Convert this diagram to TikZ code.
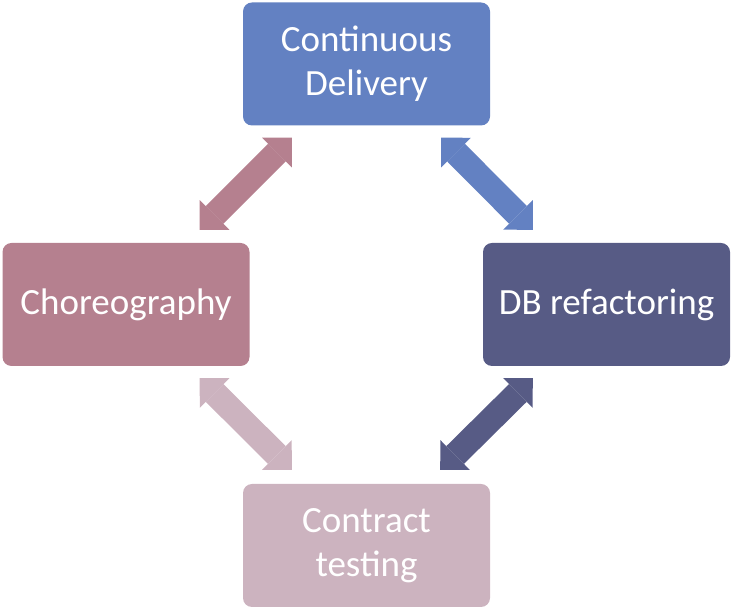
\documentclass[tikz,border=0pt]{standalone}
\usepackage{fontspec}
\setmainfont{Carlito}
\usetikzlibrary{arrows.meta, positioning}

\definecolor{cdblue}{HTML}{6381C2}
\definecolor{dbslate}{HTML}{575B85}
\definecolor{chorose}{HTML}{B5808F}
\definecolor{ctpink}{HTML}{CCB3BF}

\begin{document}
\begin{tikzpicture}[
    x=1pt, y=1pt,
    font=\fontsize{37}{44}\selectfont,
    box/.style={rounded corners=9pt, text=white, align=center,
      minimum width=247pt, minimum height=123pt, inner sep=0pt},
    blockarrow/.style={line width=25pt,
      {Triangle[length=21pt,width=42pt,line width=0pt]}-{Triangle[length=21pt,width=42pt,line width=0pt]}},
  ]
  \useasboundingbox (0,0) rectangle (734,610);

  %% ---- the four boxes ------------------------------------------------
  \node[box, fill=cdblue]  (cd)  at (366.5,546)   {Continuous\\Delivery};
  \node[box, fill=dbslate] (db)  at (606.5,305.5) {DB refactoring};
  \node[box, fill=chorose] (cho) at (126,305.5)   {Choreography};
  \node[box, fill=ctpink]  (ct)  at (366.5,64.5)  {Contract\\testing};

  %% ---- block arrows between them -------------------------------------
  \draw[blockarrow, chorose] ([shift={(-50,13)}]cho.north east)
    -- ([shift={(49,-12)}]cd.south west);
  \draw[blockarrow, cdblue]  ([shift={(-49,-12)}]cd.south east)
    -- ([shift={(50,13)}]db.north west);
  \draw[blockarrow, dbslate] ([shift={(50,-12)}]db.south west)
    -- ([shift={(-50,14)}]ct.north east);
  \draw[blockarrow, ctpink]  ([shift={(-50,-12)}]cho.south east)
    -- ([shift={(49,14)}]ct.north west);
\end{tikzpicture}
\end{document}
